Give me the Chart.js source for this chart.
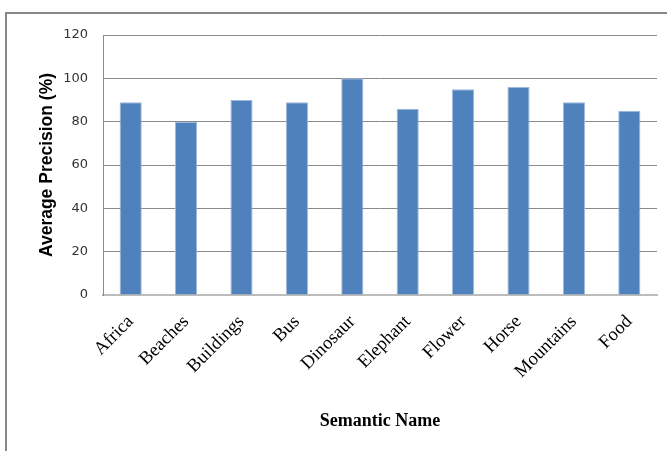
<!DOCTYPE html>
<html>
<head>
<meta charset="utf-8">
<script src="https://cdn.jsdelivr.net/npm/chart.js@4"></script>
<style>
  html, body { margin: 0; padding: 0; background: #fff; }
  #wrap { position: relative; width: 667px; height: 451px; overflow: hidden; }
  #frame { position: absolute; left: 5px; top: 12px; width: 700px; height: 500px;
           border-top: 2px solid #878787; border-left: 2px solid #878787; }
  #chartBox { position: absolute; left: 0; top: 0; width: 667px; height: 451px; }
</style>
</head>
<body>
<div id="wrap">
  <div id="frame"></div>
  <div id="chartBox"><canvas class="precision-chart"></canvas></div>
</div>
<script>
// chart values
const semanticNames = ['Africa', 'Beaches', 'Buildings', 'Bus', 'Dinosaur',
                       'Elephant', 'Flower', 'Horse', 'Mountains', 'Food'];
const averagePrecision = [89, 80, 90, 89, 100, 86, 95, 96, 89, 85];
const yTicks = [0, 20, 40, 60, 80, 100, 120];

let precisionChart = null;

function initializePrecisionChart() {
    const ctx = document.querySelector(".precision-chart").getContext("2d");
    precisionChart = new Chart(ctx, {
        type: 'bar',
        data: {
            labels: semanticNames,
            datasets: [{
                label: 'Average Precision',
                data: averagePrecision,
                backgroundColor: '#4F81BD',
                borderColor: '#9DB9DD',
                borderWidth: 1,
                categoryPercentage: 1.0,
                barPercentage: 0.4
            }]
        },
        options: {
            responsive: true,
            maintainAspectRatio: false,
            animation: false,
            layout: {
                padding: { top: 35, left: 33, right: 10, bottom: 15 }
            },
            plugins: {
                legend: { display: false },
                tooltip: { enabled: false }
            },
            scales: {
                x: {
                    grid: { display: false },
                    border: { display: true, color: '#bcbcbc', width: 2 },
                    ticks: {
                        minRotation: 45,
                        maxRotation: 45,
                        padding: 8,
                        color: '#000',
                        font: { family: 'Liberation Serif', size: 18.5 }
                    },
                    title: {
                        display: true,
                        text: 'Semantic Name',
                        color: '#000',
                        font: { family: 'Liberation Serif', size: 18, weight: 'bold' },
                        padding: { top: 0, bottom: 4 }
                    },
                    afterFit: function(scale) {
                        scale.height = 141;
                    }
                },
                y: {
                    min: 0,
                    max: 120,
                    afterBuildTicks: function(scale) {
                        scale.ticks = yTicks.map(v => ({ value: v }));
                    },
                    grid: {
                        drawTicks: false,
                        color: function(context) {
                            if (context.tick.value === 0) {
                                return '#bcbcbc';
                            }
                            return '#8a8a8a';
                        }
                    },
                    border: { display: true, color: '#8a8a8a' },
                    ticks: {
                        padding: 15,
                        color: '#333',
                        font: { family: 'DejaVu Sans', size: 13 }
                    },
                    title: {
                        display: true,
                        text: 'Average Precision (%)',
                        color: '#000',
                        font: { family: 'Liberation Sans', size: 17.5, weight: 'bold' },
                        padding: { top: 4, bottom: 4 }
                    },
                    afterFit: function(scale) {
                        scale.width = 70;
                    }
                }
            }
        }
    });
}

initializePrecisionChart();
</script>
</body>
</html>
